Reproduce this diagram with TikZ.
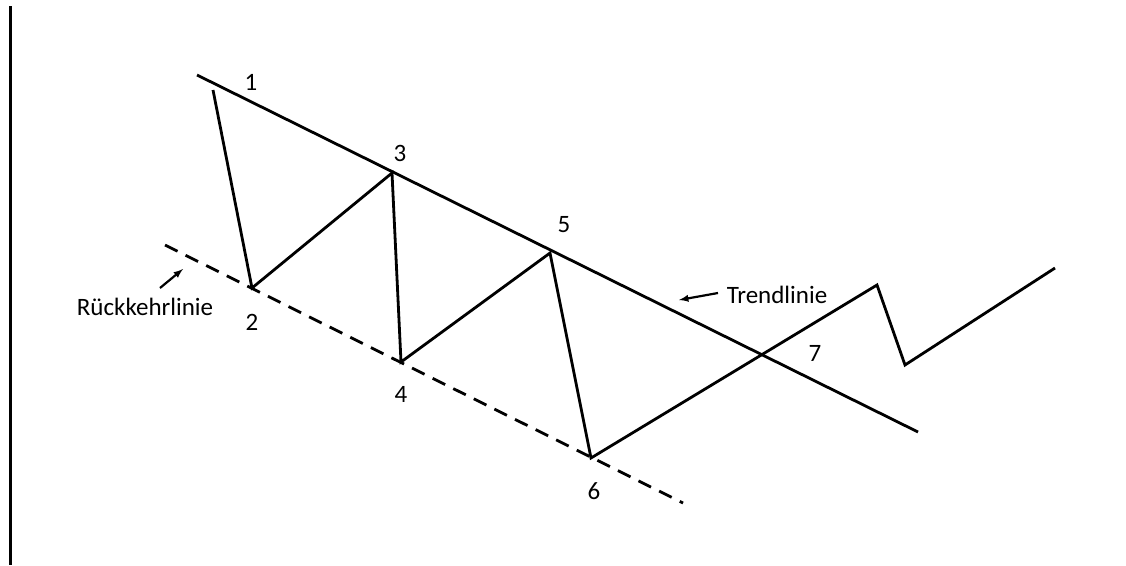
\documentclass[tikz,border=0pt]{standalone}
\usepackage{fontspec}
\setmainfont{Carlito}
\begin{document}
\begin{tikzpicture}[x=1pt, y=-1pt, line width=2.8pt,
                    every node/.style={font=\fontsize{25}{30}\selectfont, inner sep=1pt},
                    guide/.style={line width=2.8pt, dashed, dash pattern=on 14pt off 9pt},
                    pointer/.style={line width=2.2pt, -latex}]
    \useasboundingbox (0,0) rectangle (1126,565);
    \draw[line width=3pt] (10,6) -- (10,565);
    % turning points
    \coordinate (p1) at (213,90);
    \coordinate (p2) at (252,288);
    \coordinate (p3) at (392,173);
    \coordinate (p4) at (401,362);
    \coordinate (p5) at (550,253);
    \coordinate (p6) at (591,458);
    \coordinate (p8) at (877,285);
    \coordinate (p9) at (905,365);
    \coordinate (p10) at (1055,268);
    \coordinate (ta) at (197,75);
    \coordinate (tb) at (918,432);
    \coordinate (ra) at (165,245);
    \coordinate (rb) at (683,503);
    \draw (ta) -- (tb);
    \draw[guide] (ra) -- (rb);
    \draw[line join=miter] (p1) -- (p2) -- (p3) -- (p4) -- (p5) -- (p6) -- (p8) -- (p9) -- (p10);
    % labels
    \node (l1) at (251,82)  {1};
    \node (l2) at (252,322) {2};
    \node (l3) at (400,153) {3};
    \node (l4) at (401,394) {4};
    \node (l5) at (564,225) {5};
    \node (l6) at (594,491) {6};
    \node (l7) at (815,353) {7};
    \node (rk) at (145,307) {Rückkehrlinie};
    \node (tr) at (777,295) {Trendlinie};
    \coordinate (rks) at (160,288);
    \coordinate (rkt) at (183,269);
    \coordinate (trs) at (718,293);
    \coordinate (trt) at (679,300);
    \draw[pointer] (rks) -- (rkt);
    \draw[pointer] (trs) -- (trt);
\end{tikzpicture}
\end{document}
